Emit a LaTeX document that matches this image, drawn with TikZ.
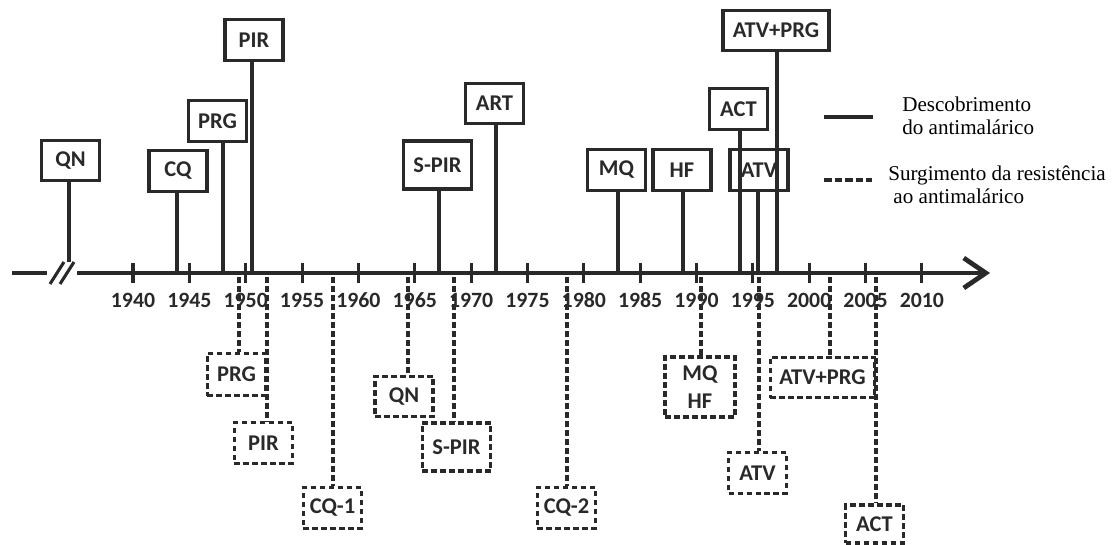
\documentclass[tikz,border=0pt]{standalone}
\usepackage{fontspec}
\setmainfont{Liberation Serif}
\setsansfont{Carlito}
\usepackage{tikz}
\usetikzlibrary{arrows.meta}
\definecolor{ink}{gray}{0.16}
\newcommand{\boxfont}{\sffamily\bfseries\fontsize{16}{20}\selectfont}
\newcommand{\yearfont}{\sffamily\bfseries\fontsize{15.5}{17}\selectfont}
\tikzset{
  found/.style   ={rectangle, draw=ink, line width=2.2pt, text=ink, font=\boxfont,
                   minimum width=1.45cm, minimum height=1.02cm, inner sep=0pt, align=center},
  resist/.style  ={found, dash pattern=on 4pt off 2.4pt},
  foundln/.style ={draw=ink, line width=2.2pt},
  resistln/.style={foundln, dash pattern=on 4pt off 2.4pt},
  legtext/.style ={anchor=west, align=left, inner sep=0pt, text=black,
                   font=\fontsize{15}{16.4}\selectfont}
}

\begin{document}
\begin{tikzpicture}[x=0.025cm, y=-0.025cm]
  \useasboundingbox (0,0) rectangle (1112,545);

  % time axis with break
  \draw[draw=ink, line width=3.4pt] (12,273) -- (47,273);
  \draw[draw=ink, line width=2.2pt] (50,284) -- (64,262);
  \draw[draw=ink, line width=2.2pt] (60,284) -- (74,262);
  \draw[draw=ink, line width=3.4pt, -{Straight Barb[length=0.55cm, width=0.75cm]}] (77,273) -- (990,273);
  \foreach \yr in {1940,1945,...,2010}{
    \draw[foundln] ({133+(\yr-1940)*11.27},263) -- ++(0,20);
    \node[font=\yearfont, text=ink] at ({133+(\yr-1940)*11.27},300) {\yr};
  }

  % discoveries (above the axis)
  \node[found] (qnT) at (70.5,160.5) {QN};
  \node[found] (cqT) at (178,171) {CQ};
  \node[found] (prgT) at (217.5,121) {PRG};
  \node[found] (pirT) at (254,40) {PIR};
  \node[found, minimum width=1.72cm, minimum height=1.2cm] (spirT) at (437.5,165) {S-PIR};
  \node[found] (artT) at (494.5,103.5) {ART};
  \node[found] (mqT) at (616.5,170) {MQ};
  \node[found] (hfT) at (682,170) {HF};
  \node[found] (atvT) at (759,170) {ATV};
  \node[found] (actT) at (738.5,109) {ACT};
  \node[found, minimum width=2.65cm] (atvprgT) at (776,30.5) {ATV+PRG};

  \coordinate (dQN) at (69,262);
  \coordinate (dCQ) at (177,273);
  \coordinate (dPRG) at (223,273);
  \coordinate (dPIR) at (252,273);
  \coordinate (dSPIR) at (439,273);
  \coordinate (dART) at (496,273);
  \coordinate (dMQ) at (618,273);
  \coordinate (dHF) at (683,273);
  \coordinate (dATV) at (758,273);
  \coordinate (dACT) at (740,273);
  \coordinate (dATVPRG) at (777,273);

  \draw[foundln] (dQN) -- (dQN |- qnT.south);
  \draw[foundln] (dCQ) -- (dCQ |- cqT.south);
  \draw[foundln] (dPRG) -- (dPRG |- prgT.south);
  \draw[foundln] (dPIR) -- (dPIR |- pirT.south);
  \draw[foundln] (dSPIR) -- (dSPIR |- spirT.south);
  \draw[foundln] (dART) -- (dART |- artT.south);
  \draw[foundln] (dMQ) -- (dMQ |- mqT.south);
  \draw[foundln] (dHF) -- (dHF |- hfT.south);
  \draw[foundln] (dATV) -- (dATV |- atvT.south);
  \draw[foundln] (dACT) -- (dACT |- actT.south);
  \draw[foundln] (dATVPRG) -- (dATVPRG |- atvprgT.south);

  % resistance (below the axis)
  \node[resist, minimum height=1.07cm] (prgB) at (236.5,374.5) {PRG};
  \node[resist] (pirB) at (263.5,443) {PIR};
  \node[resist] (cq1B) at (332.5,508) {CQ-1};
  \node[resist] (qnB) at (404,396.5) {QN};
  \node[resist, minimum width=1.72cm, minimum height=1.2cm] (spirB) at (456.5,447) {S-PIR};
  \node[resist] (cq2B) at (566.5,508) {CQ-2};
  \node[resist, minimum width=1.75cm, minimum height=1.5cm] (mqhfB) at (700,387) {MQ\\HF};
  \node[resist] (atvB) at (757.5,473) {ATV};
  \node[resist, minimum width=2.62cm] (atvprgB) at (822.5,377.5) {ATV+PRG};
  \node[resist, minimum height=0.95cm] (actB) at (874.5,524) {ACT};

  \coordinate (rPRG) at (239,277);
  \coordinate (rPIR) at (267,277);
  \coordinate (rCQ1) at (333,277);
  \coordinate (rQN) at (408,277);
  \coordinate (rSPIR) at (454,277);
  \coordinate (rCQ2) at (567,277);
  \coordinate (rMQHF) at (701,277);
  \coordinate (rATV) at (759,277);
  \coordinate (rATVPRG) at (830,277);
  \coordinate (rACT) at (876,277);

  \draw[resistln] (rPRG) -- (rPRG |- prgB.north);
  \draw[resistln] (rPIR) -- (rPIR |- pirB.north);
  \draw[resistln] (rCQ1) -- (rCQ1 |- cq1B.north);
  \draw[resistln] (rQN) -- (rQN |- qnB.north);
  \draw[resistln] (rSPIR) -- (rSPIR |- spirB.north);
  \draw[resistln] (rCQ2) -- (rCQ2 |- cq2B.north);
  \draw[resistln] (rMQHF) -- (rMQHF |- mqhfB.north);
  \draw[resistln] (rATV) -- (rATV |- atvB.north);
  \draw[resistln] (rATVPRG) -- (rATVPRG |- atvprgB.north);
  \draw[resistln] (rACT) -- (rACT |- actB.north);

  % legend
  \draw[foundln, line width=3pt] (824,117) -- (873,117);
  \draw[foundln, line width=3pt, dash pattern=on 5.5pt off 2pt] (824,180) -- (872,180);
  \node[legtext] (leg1) at (902,116) {Descobrimento\\do antimalárico};
  \node[legtext] (leg2) at (888,185) {Surgimento da resistência\\\hspace*{0.13cm}ao antimalárico};
\end{tikzpicture}
\end{document}
